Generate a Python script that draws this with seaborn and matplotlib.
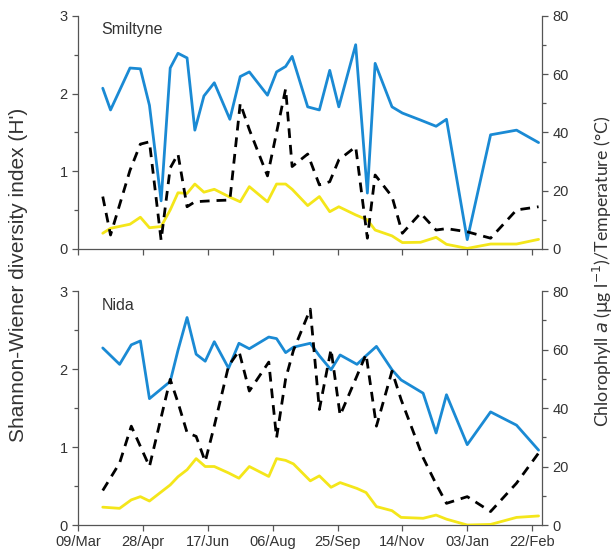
import numpy as np
import pandas as pd
import matplotlib
matplotlib.use('Agg')
import matplotlib.pyplot as plt
import seaborn as sns
from matplotlib.ticker import MultipleLocator

sns.set_style('ticks')
plt.rcParams['font.family'] = ['Liberation Sans', 'DejaVu Sans']

# sampling days counted from 09/Mar
smiltyne_days = [19, 25, 40, 48, 55, 64, 71, 77, 84, 90, 97, 105, 117, 125, 132, 146, 153,
                 160, 165, 177, 186, 194, 201, 214, 223, 229, 242, 250, 264, 276, 284, 300,
                 318, 338, 355]
smiltyne_h = [2.07, 1.79, 2.33, 2.32, 1.85, 0.62, 2.33, 2.52, 2.46, 1.53, 1.97, 2.14, 1.67,
              2.22, 2.28, 1.98, 2.28, 2.35, 2.48, 1.83, 1.79, 2.30, 1.83, 2.63, 0.72, 2.39,
              1.83, 1.75, 1.66, 1.58, 1.67, 0.12, 1.47, 1.53, 1.37]
smiltyne_chl = [18.0, 4.8, 27.0, 36.0, 36.8, 3.0, 27.8, 32.6, 14.5, 16.2, 16.4, 16.6, 16.8,
                50.0, 41.0, 25.1, 40.0, 55.0, 28.3, 32.6, 22.0, 23.1, 30.6, 35.1, 3.7, 25.4,
                18.0, 5.4, 12.3, 6.5, 7.0, 5.9, 3.7, 13.4, 14.5]
smiltyne_temp = [5.4, 7.1, 8.5, 10.9, 7.3, 7.7, 13.4, 19.3, 19.1, 22.3, 19.5, 20.5, 17.8,
                 16.2, 21.4, 16.2, 22.3, 22.3, 20.5, 14.9, 18.0, 12.8, 14.5, 11.7, 10.0, 6.5,
                 4.5, 2.2, 2.3, 4.0, 1.6, 0.2, 1.7, 1.7, 3.3]

nida_days = [19, 32, 41, 48, 55, 71, 77, 84, 91, 98, 105, 116, 124, 132, 147, 153, 160,
             166, 179, 186, 195, 202, 215, 222, 230, 242, 249, 266, 276, 284, 300, 318,
             338, 355]
nida_h = [2.27, 2.06, 2.31, 2.36, 1.62, 1.84, 2.24, 2.66, 2.19, 2.10, 2.35, 2.01, 2.33,
          2.26, 2.41, 2.39, 2.21, 2.28, 2.33, 2.17, 1.99, 2.18, 2.06, 2.17, 2.29, 1.99,
          1.86, 1.69, 1.18, 1.67, 1.03, 1.45, 1.28, 0.96]
nida_chl = [11.8, 21.2, 33.8, 26.9, 20.0, 49.8, 41.9, 31.6, 30.3, 21.7, 33.9, 54.4, 59.5,
            45.8, 55.7, 29.8, 50.0, 59.7, 73.8, 39.5, 60.1, 37.5, 51.0, 58.4, 33.8, 52.6,
            42.9, 23.0, 14.0, 7.4, 9.7, 4.6, 14.3, 24.6]
nida_temp = [6.1, 5.7, 8.6, 9.7, 8.2, 13.7, 16.5, 18.9, 22.7, 20.0, 20.0, 17.8, 16.0, 20.0,
             16.6, 22.7, 22.1, 20.9, 15.1, 16.8, 12.9, 14.5, 12.5, 11.1, 6.3, 4.9, 2.6, 2.3,
             3.4, 2.0, 0.0, 0.2, 2.6, 3.1]

tick_days = [0, 50, 100, 150, 200, 250, 300, 350]
tick_labels = ['09/Mar', '28/Apr', '17/Jun', '06/Aug', '25/Sep', '14/Nov', '03/Jan', '22/Feb']

stations = [
    ('Smiltyne', smiltyne_days, smiltyne_h, smiltyne_chl, smiltyne_temp),
    ('Nida', nida_days, nida_h, nida_chl, nida_temp),
]

blue = '#1a8ad4'
yellow = '#f4e61a'
spine_col = '#555555'
text_col = '#333333'

fig = plt.figure(figsize=(6.15, 5.59), dpi=100)
boxes = [[0.127, 0.5546, 0.754, 0.4168], [0.127, 0.0608, 0.754, 0.4186]]

for i, (name, days, h, chl, temp) in enumerate(stations):
    ax = fig.add_axes(boxes[i])
    ax2 = ax.twinx()
    sns.lineplot(x=days, y=h, ax=ax, color=blue, linewidth=2.0, sort=False)
    sns.lineplot(x=days, y=temp, ax=ax2, color=yellow, linewidth=2.0, sort=False)
    sns.lineplot(x=days, y=chl, ax=ax2, color='black', linewidth=2.0, sort=False,
                 linestyle=(0, (3.5, 2.5)))
    ax.set_xlim(0, 357.5)
    ax.set_ylim(0, 3)
    ax2.set_ylim(0, 80)
    ax.yaxis.set_major_locator(MultipleLocator(1))
    ax.yaxis.set_minor_locator(MultipleLocator(0.5))
    ax2.yaxis.set_major_locator(MultipleLocator(20))
    ax2.yaxis.set_minor_locator(MultipleLocator(10))
    ax.set_xticks(tick_days)
    if i == 1:
        ax.set_xticklabels(tick_labels)
    else:
        ax.set_xticklabels([])
    for a in (ax, ax2):
        a.spines['top'].set_visible(False)
        for s in ('left', 'right', 'bottom'):
            a.spines[s].set_color(spine_col)
            a.spines[s].set_linewidth(0.9)
        a.tick_params(which='major', direction='out', length=4, width=0.9,
                      color=spine_col, labelsize=10.5, labelcolor=text_col)
        a.tick_params(which='minor', direction='out', length=3, width=0.9, color=spine_col)
        a.set_xlabel('')
        a.set_ylabel('')
    ax.spines['right'].set_visible(False)
    ax2.spines['left'].set_visible(False)
    ax2.spines['bottom'].set_visible(False)
    ax.text(0.05, 0.94, name, transform=ax.transAxes, fontsize=11.5, color=text_col,
            va='center', ha='left')

fig.text(0.03, 0.508, "Shannon-Wiener diversity index (H')", rotation=90, fontsize=15,
         color=text_col, ha='center', va='center')
fig.text(0.981, 0.515, r'Chlorophyll $\it{a}$ ($\mathrm{\mu}$g l$^{-1}$)/Temperature (°C)',
         rotation=90, fontsize=12.8, color=text_col, ha='center', va='center',
         family=['Lato', 'DejaVu Sans'])

fig.savefig('out.png', dpi=100)
